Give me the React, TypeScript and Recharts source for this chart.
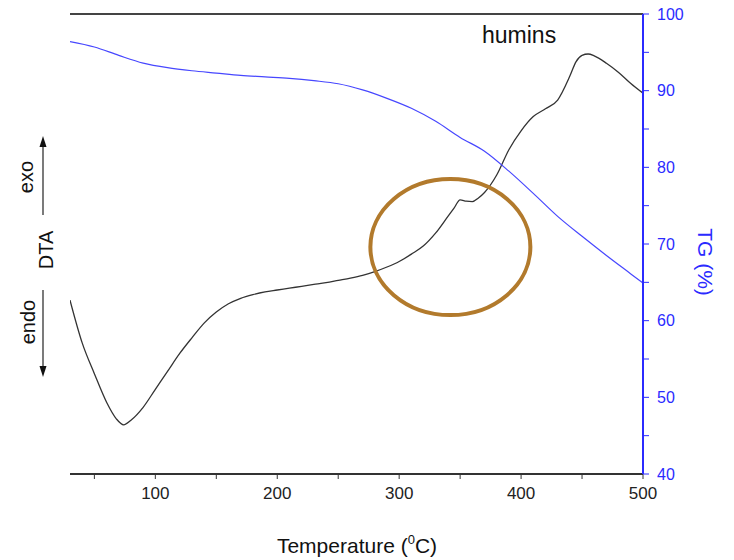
import React from 'react';
import {
  LineChart,
  Line,
  XAxis,
  YAxis,
  ReferenceLine,
  ReferenceDot,
  Customized,
} from 'recharts';

// DTA trace (arbitrary units, axis hidden)
const dtaTemps = [30, 40, 50, 60, 68, 74, 80, 90, 100, 110, 120, 130, 140, 150, 160, 170, 180, 190, 200, 210, 220, 230, 240, 250, 260, 270, 280, 290, 300, 310, 320, 330, 340, 345, 350, 355, 360, 365, 370, 380, 390, 400, 410, 420, 430, 440, 445, 450, 455, 460, 470, 480, 490, 500];
const dtaValues = [37.8, 28.5, 21.8, 15.6, 12.0, 10.7, 11.7, 14.5, 18.4, 22.3, 26.2, 29.6, 32.8, 35.2, 37.0, 38.2, 39.0, 39.6, 40.0, 40.4, 40.8, 41.2, 41.6, 42.1, 42.6, 43.2, 44.0, 45.0, 46.2, 47.8, 49.6, 52.4, 56.0, 57.8, 59.6, 59.3, 59.2, 60.0, 61.2, 65.0, 70.5, 74.6, 77.7, 79.4, 81.3, 86.5, 89.6, 91.0, 91.3, 90.9, 89.3, 87.3, 84.9, 82.8];

// TG trace (%)
const tgTemps = [30, 50, 70, 90, 110, 130, 150, 170, 190, 210, 230, 250, 270, 290, 310, 330, 350, 370, 390, 410, 430, 450, 470, 490, 500];
const tgValues = [96.4, 95.7, 94.6, 93.6, 93.0, 92.6, 92.3, 92.0, 91.8, 91.6, 91.3, 90.9, 90.1, 89.0, 87.7, 86.0, 83.9, 82.1, 79.5, 76.6, 73.6, 71.0, 68.5, 66.1, 64.9];

const xTicks = [50, 100, 150, 200, 250, 300, 350, 400, 450, 500];
const tgTicks = [40, 45, 50, 55, 60, 65, 70, 75, 80, 85, 90, 95, 100];

// highlighted region (circle annotation)
const markT = 342;
const markTG = 69.6;

const dtaData = dtaTemps.map((t, i) => ({ t, dta: dtaValues[i] }));
const tgData = tgTemps.map((t, i) => ({ t, tg: tgValues[i] }));

const FONT = '"Liberation Sans", Arial, sans-serif';
const BLUE = '#2b2bff';

const Ellipse = (props: any) => (
  <ellipse cx={props.cx} cy={props.cy} rx={80} ry={68} fill="none" stroke="#b27a2c" strokeWidth={4} />
);

const Annotations = () => (
  <g fontFamily={FONT}>
    <text x={482} y={43} fontSize={23} fill="#111">humins</text>
    <text x={357} y={553} fontSize={21} fill="#111" textAnchor="middle">
      Temperature (<tspan fontSize={13} dy={-9}>0</tspan><tspan dy={9}>C)</tspan>
    </text>
    <text x={0} y={0} fontSize={21} fill={BLUE} textAnchor="middle" transform="translate(698,262) rotate(90)">TG (%)</text>
    <text x={0} y={0} fontSize={20} fill="#111" textAnchor="middle" transform="translate(33,177) rotate(-90)">exo</text>
    <text x={0} y={0} fontSize={20} fill="#111" textAnchor="middle" transform="translate(53,250) rotate(-90)">DTA</text>
    <text x={0} y={0} fontSize={20} fill="#111" textAnchor="middle" transform="translate(35,322) rotate(-90)">endo</text>
    <line x1={43} y1={215} x2={43} y2={145} stroke="#333" strokeWidth={1.3} />
    <path d="M43,136 L39.5,147 L46.5,147 Z" fill="#111" />
    <line x1={43} y1={290} x2={43} y2={368} stroke="#333" strokeWidth={1.3} />
    <path d="M43,377 L39.5,366 L46.5,366 Z" fill="#111" />
  </g>
);

export default function App() {
  return (
    <div style={{ position: 'absolute', left: 0, top: 0, width: 734, height: 560, background: '#fff' }}>
      <LineChart width={734} height={560} margin={{ top: 14, right: 31, left: 70, bottom: 36 }}>
        <XAxis
          dataKey="t"
          type="number"
          domain={[30, 500]}
          ticks={xTicks}
          allowDataOverflow
          height={50}
          tickSize={5}
          tickMargin={8}
          stroke="#333"
          axisLine={{ stroke: '#333', strokeWidth: 2 }}
          tick={{ fontSize: 17, fill: '#222', fontFamily: FONT }}
          tickFormatter={(v) => (v % 100 === 0 ? String(v) : '')}
        />
        <YAxis
          yAxisId="dta"
          domain={[0, 100]}
          width={0}
          tick={false}
          tickLine={false}
          axisLine={{ stroke: '#333', strokeWidth: 2 }}
        />
        <YAxis
          yAxisId="right"
          orientation="right"
          domain={[40, 100]}
          ticks={tgTicks}
          width={60}
          tickSize={6}
          tickMargin={8}
          stroke={BLUE}
          axisLine={{ stroke: BLUE, strokeWidth: 2 }}
          tick={{ fontSize: 16, fill: BLUE, fontFamily: FONT, textAnchor: 'start' }}
          tickFormatter={(v) => (v % 10 === 0 ? String(v) : '')}
        />
        <ReferenceLine yAxisId="right" y={100} stroke="#444" strokeWidth={2} />
        <Line
          yAxisId="dta"
          data={dtaData}
          dataKey="dta"
          type="monotone"
          stroke="#333"
          strokeWidth={1.3}
          dot={false}
          isAnimationActive={false}
        />
        <Line
          yAxisId="right"
          data={tgData}
          dataKey="tg"
          type="monotone"
          stroke="#4747ff"
          strokeWidth={1.2}
          dot={false}
          isAnimationActive={false}
        />
        <ReferenceDot yAxisId="right" x={markT} y={markTG} r={70} shape={Ellipse} />
        <Customized component={Annotations} />
      </LineChart>
    </div>
  );
}
